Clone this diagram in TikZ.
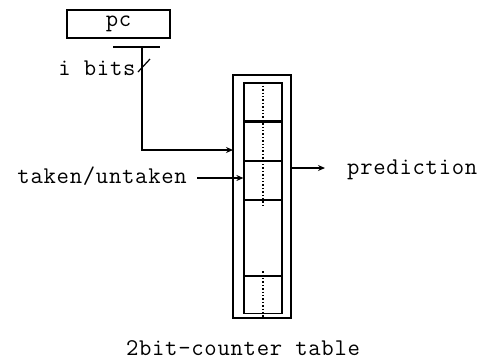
\documentclass[tikz,border=0pt]{standalone}
\usepackage{fontspec}
\newfontfamily\courfont[LetterSpace=3]{Latin Modern Mono}
\usetikzlibrary{arrows.meta, positioning}

\begin{document}
\begin{tikzpicture}[x=1pt, y=-1pt,
  reg/.style={rectangle, draw, line width=1.2pt, minimum width=103pt, minimum height=28pt, inner sep=0pt},
  cell/.style={rectangle, draw, line width=1.2pt, minimum width=38pt, inner sep=0pt},
  frame/.style={rectangle, draw, line width=1.2pt, minimum width=58pt, minimum height=243pt, inner sep=0pt},
  wire/.style={line width=1.2pt},
  arrow/.style={-{Stealth[length=7pt, width=6pt]}, line width=1.2pt},
  dots/.style={dotted, line width=1.4pt},
  label/.style={font=\fontsize{24}{28}\selectfont\courfont, inner sep=0pt}
]
\useasboundingbox (0,0) rectangle (480,360);

% Index register
\node[reg, label] (pc) at (118.5,24) {pc};
\coordinate (bus) at (142,47);
\draw[wire] ([xshift=-29pt]bus) -- ([xshift=18pt]bus);
\node[label] (ibits) at (97,68) {i bits};
\draw[wire] (138,72) -- (150,59);

% Counter table
\node[frame] (table) at (262,196.5) {};
\node[cell, minimum height=38pt] (c1) at (263,102) {};
\node[cell, minimum height=38pt, below=0pt of c1] (c2) {};
\node[cell, minimum height=38pt, below=0pt of c2] (c3) {};
\node[cell, minimum height=75pt, below=0pt of c3] (c4) {};
\node[cell, minimum height=37pt, below=0pt of c4] (c5) {};
\draw[dots] (c1.north) -- ([yshift=-5pt]c3.south);
\draw[dots] ([yshift=5pt]c5.north) -- ([yshift=-4pt]c5.south);
\node[label] at (243,348) {2bit-counter table};

% Inputs
\coordinate (idx) at (233,150);
\draw[arrow] (bus) |- (idx);
\node[label, anchor=east] (taken) at (187,176) {taken/untaken};
\coordinate (upd) at (197,178);
\draw[arrow] (upd) -- (upd -| c3.west);

% Output
\coordinate (out) at (325,168);
\draw[arrow] (table.east |- out) -- (out);
\node[label, anchor=west] (pred) at (347,170) {prediction};

\end{tikzpicture}
\end{document}
